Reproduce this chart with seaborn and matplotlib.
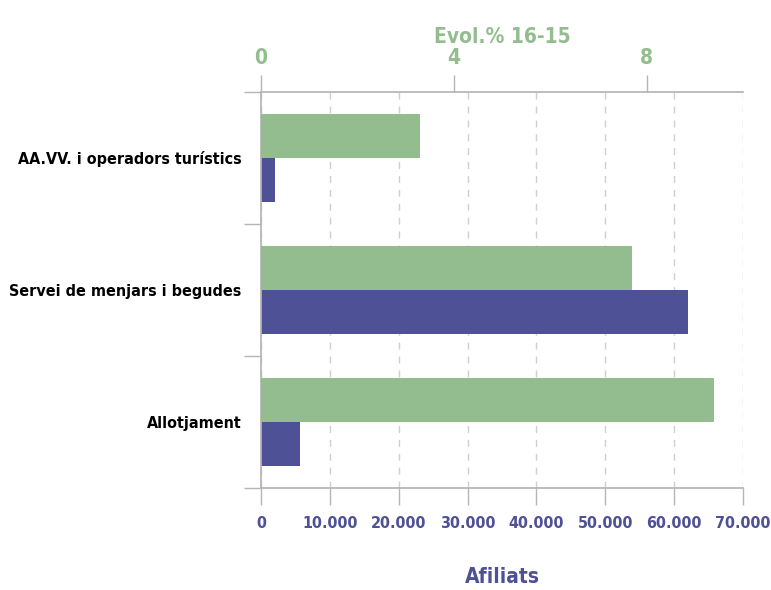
import pandas as pd
import seaborn as sns
import matplotlib.pyplot as plt
from matplotlib.ticker import FuncFormatter

# Data
categories = ['AA.VV. i operadors turístics', 'Servei de menjars i begudes', 'Allotjament']
afiliats = [2000, 62000, 5700]
evol = [3.3, 7.7, 9.4]
afiliats_ticks = [0, 10000, 20000, 30000, 40000, 50000, 60000, 70000]
evol_ticks = [0, 4, 8]

green = '#93bd8e'
purple = '#4f5196'
grey = '#b5b5b5'

sns.set_theme(style='white')
plt.rcParams['font.family'] = ['DejaVu Sans']
plt.rcParams['font.stretch'] = 'condensed'
plt.rcParams['font.weight'] = 'bold'

df_af = pd.DataFrame({'sector': categories, 'valor': afiliats, 'serie': 'Afiliats'})
df_ev = pd.DataFrame({'sector': categories, 'valor': evol, 'serie': 'Evol'})
hue_order = ['Evol', 'Afiliats']
palette = {'Evol': green, 'Afiliats': purple}

fig = plt.figure(figsize=(7.71, 5.9), dpi=100)
ax = fig.add_axes([0.3385, 0.1729, 0.6252, 0.6712])
ax2 = ax.twiny()

# Afiliats on the bottom axis, Evol.% on the top axis; dodge keeps both slots
sns.barplot(data=df_af, x='valor', y='sector', hue='serie', hue_order=hue_order,
            palette=palette, order=categories, width=0.667, dodge=True,
            saturation=1, linewidth=0, legend=False, ax=ax)
sns.barplot(data=df_ev, x='valor', y='sector', hue='serie', hue_order=hue_order,
            palette=palette, order=categories, width=0.667, dodge=True,
            saturation=1, linewidth=0, legend=False, ax=ax2)

ax.set_xlim(0, 70000)
ax2.set_xlim(0, 10)
ax.set_ylim(2.5, -0.5)

# bottom axis
ax.set_xticks(afiliats_ticks)
ax.xaxis.set_major_formatter(FuncFormatter(lambda v, p: f'{int(v):,}'.replace(',', '.')))
ax.tick_params(axis='x', length=12, width=1, color=grey, labelcolor=purple,
               labelsize=11.5, pad=8, direction='out', bottom=True)
ax.set_xlabel('Afiliats', color=purple, fontsize=15, fontweight='bold', labelpad=26)
ax.grid(axis='x', linestyle=(0, (5, 5)), color='#cfcfcf', linewidth=1)
ax.set_axisbelow(True)

# category axis
ax.set_yticks(range(len(categories)))
ax.set_yticklabels(categories)
ax.set_yticks([-0.5, 0.5, 1.5, 2.5], minor=True)
ax.tick_params(axis='y', which='major', length=0, pad=14, labelsize=11.5, labelcolor='black')
ax.tick_params(axis='y', which='minor', length=12, width=1, color=grey, direction='out', left=True)
ax.set_ylabel('')

# top axis
ax2.set_xticks(evol_ticks)
ax2.tick_params(axis='x', length=12, width=1, color=grey, labelcolor=green,
                labelsize=15, pad=5, direction='out', top=True)
ax2.set_xlabel('Evol.% 16-15', color=green, fontsize=15, fontweight='bold', labelpad=4)
ax2.set_ylabel('')

for s in ['top', 'right']:
    ax.spines[s].set_visible(False)
for s in ['bottom', 'left']:
    ax.spines[s].set_color(grey)
for s in ['bottom', 'left', 'right']:
    ax2.spines[s].set_visible(False)
ax2.spines['top'].set_color(grey)

fig.savefig('out.png', dpi=100)
